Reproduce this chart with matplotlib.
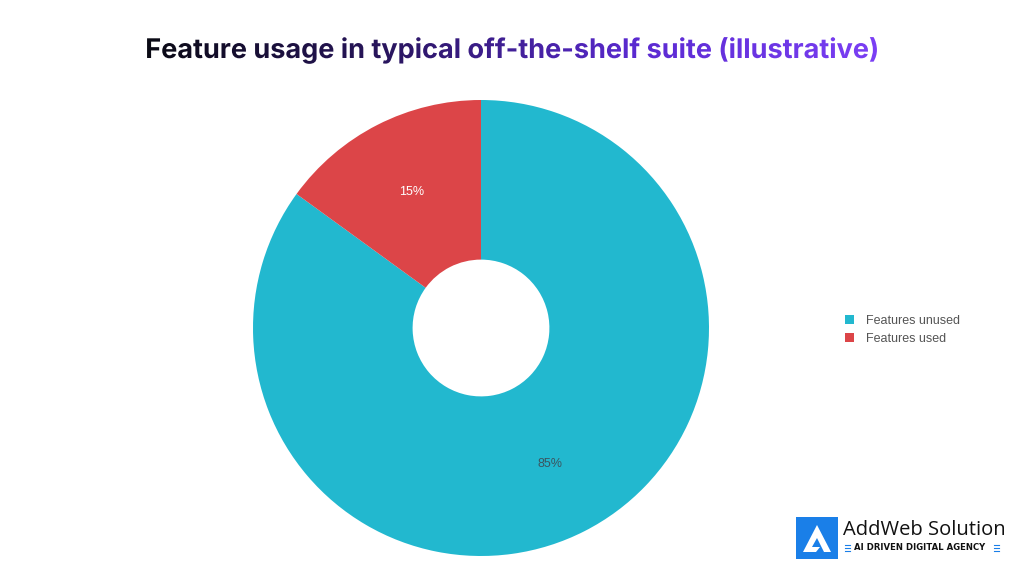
import matplotlib
matplotlib.use("Agg")
import matplotlib.pyplot as plt
import numpy as np
from matplotlib.textpath import TextPath
from matplotlib.font_manager import FontProperties
from matplotlib.patches import PathPatch, Rectangle, Polygon
from matplotlib.transforms import Affine2D
from matplotlib.colors import LinearSegmentedColormap

title = "Feature usage in typical off-the-shelf suite (illustrative)"
labels = ["Features unused", "Features used"]
values = [85, 15]
colors = ["#22b8cf", "#dc4548"]
pct_colors = ["#3b5560", "#ffffff"]

W, H = 1024, 576
fig = plt.figure(figsize=(W / 100, H / 100), dpi=100)
fig.patch.set_facecolor("white")

# Overlay axes in pixel coordinates
ov = fig.add_axes([0, 0, 1, 1])
ov.set_xlim(0, W)
ov.set_ylim(0, H)
ov.axis("off")

# Pie
cx, cy, r = 481, 576 - 328, 228
ax = fig.add_axes([(cx - r) / W, (cy - r) / H, 2 * r / W, 2 * r / H])
wedges, texts, autotexts = ax.pie(
    values, colors=colors, startangle=90, counterclock=False,
    autopct="%d%%", pctdistance=0.67, radius=1.0,
    wedgeprops=dict(width=0.70, edgecolor="none"),
    textprops=dict(fontsize=9, family="Liberation Sans"))
for t, c in zip(autotexts, pct_colors):
    t.set_color(c)
ax.set_xlim(-1, 1)
ax.set_ylim(-1, 1)
ax.set_aspect("equal")
ax.axis("off")

# Legend
leg = fig.legend(wedges, labels, loc="center left",
                 bbox_to_anchor=(834 / W, 1 - 330 / H), frameon=False,
                 prop=FontProperties(family="Liberation Sans", size=9),
                 handlelength=0.7, handleheight=0.7,
                 handletextpad=1.0, labelspacing=0.45)
for t in leg.get_texts():
    t.set_color("#555555")

# Gradient title
fs = 19.5
fp = FontProperties(family="Inter", weight="bold")
tp = TextPath((0, 0), title, size=fs, prop=fp)
bb = tp.get_extents()
scale = 100 / 72
tw = bb.width * scale
x0 = 512 - tw / 2 - bb.x0 * scale
y0 = 576 - 58
trans = Affine2D().scale(scale).translate(x0, y0)
path = trans.transform_path(tp)
patch = PathPatch(path, facecolor="none", edgecolor="none", transform=ov.transData)
ov.add_patch(patch)
pb = path.get_extents()
cmap = LinearSegmentedColormap.from_list("tg", ["#0a0a14", "#2a1660", "#5a2ad0", "#7b3ff5"])
grad = np.linspace(0, 1, 256).reshape(1, -1)
im = ov.imshow(grad, cmap=cmap, extent=[pb.x0, pb.x1, pb.y0 - 2, pb.y1 + 2],
               aspect="auto", zorder=5)
im.set_clip_path(patch)
ov.set_xlim(0, W)
ov.set_ylim(0, H)

# Logo
ov.add_patch(Rectangle((796, 576 - 559), 42, 42, facecolor="#1a7fe8", edgecolor="none"))
ov.add_patch(Polygon([(803, 576 - 552), (817, 576 - 525), (831, 576 - 552), (824, 576 - 552),
                      (817, 576 - 538), (812, 576 - 547), (820, 576 - 547), (816, 576 - 552)],
                     closed=True, facecolor="white", edgecolor="none"))
ov.text(843, 576 - 530, "AddWeb Solution", fontsize=14.5, family="Open Sans",
        color="#111111", va="center", ha="left")
ov.text(854, 576 - 548, "AI DRIVEN DIGITAL AGENCY", fontsize=6.1, family="DejaVu Sans",
        weight="bold", color="#111111", va="center", ha="left")
for dx in (845, 994):
    for k in range(3):
        ov.plot([dx, dx + 5], [576 - 545 - k * 3, 576 - 545 - k * 3], color="#1a7fe8", lw=0.8)

fig.savefig("out.png", dpi=100, facecolor="white")
